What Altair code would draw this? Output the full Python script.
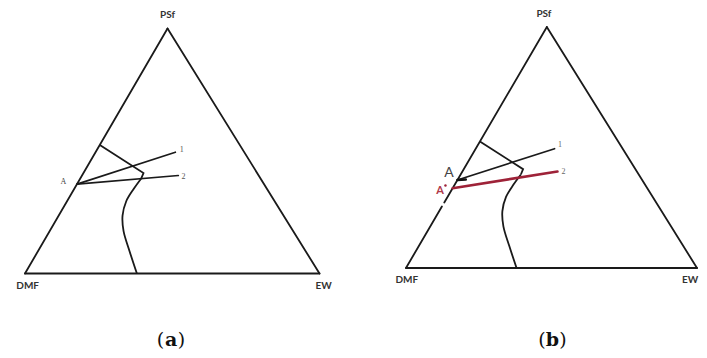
import altair as alt
import pandas as pd

# ---------------- data (ternary mass fractions: PSf, EW; DMF = 1 - PSf - EW) ----
SKEW = 0.484  # apex position along the base

# binodal curve, upper straight part (from DMF–PSf edge to the plait corner)
bin_top_psf = [0.525, 0.410, 0.388]
bin_top_ew = [0.000, 0.204, 0.207]
# binodal curve, lower curved part (down to the DMF–EW base)
bin_low_psf = [0.388, 0.346, 0.295, 0.236, 0.173, 0.091, 0.000]
bin_low_ew = [0.207, 0.202, 0.201, 0.217, 0.251, 0.311, 0.380]

# composition points
A_psf, A_ew = 0.365, 0.000
A2_psf, A2_ew = 0.331, 0.000        # A' (panel b)
P1_psf, P1_ew = 0.495, 0.271        # end of path 1
P2_psf, P2_ew = 0.400, 0.327        # end of path 2
ARW_psf, ARW_ew = 0.367, 0.028      # short arrow near A (panel b)
GAP_hi, GAP_lo = 0.272, 0.255       # break in left edge (panel b)

vertex_names = ["PSf", "DMF", "EW"]
panel_letters = ["a", "b"]
path_names = ["1", "2"]

# ---------------- helpers ----------------
CALC = dict(X=f"datum.ew + {SKEW}*datum.psf", Y="datum.psf")
CALC_R = dict(X1=f"datum.ew1 + {SKEW}*datum.psf1", Y1="datum.psf1",
              X2=f"datum.ew2 + {SKEW}*datum.psf2", Y2="datum.psf2")


def seg_df(rows):
    return pd.DataFrame(rows, columns=["psf1", "ew1", "psf2", "ew2"])


def panel(xdom, ydom, edges, black_segs, red_segs, labels, dots, letter, lpos):
    xs = alt.Scale(domain=xdom, nice=False, zero=False)
    ys = alt.Scale(domain=ydom, nice=False, zero=False)

    def enc(c, xf="X:Q", yf="Y:Q", **kw):
        return c.encode(x=alt.X(xf, scale=xs, axis=None), y=alt.Y(yf, scale=ys, axis=None), **kw)

    def rules(df, color, width):
        return enc(alt.Chart(df).mark_rule(color=color, strokeWidth=width, strokeCap="round").transform_calculate(
            **CALC_R), "X1:Q", "Y1:Q", x2="X2:Q", y2="Y2:Q")

    layers = [rules(seg_df(edges), "#1a1a1a", 1.8)]

    top = pd.DataFrame({"psf": bin_top_psf, "ew": bin_top_ew, "i": range(len(bin_top_psf))})
    low = pd.DataFrame({"psf": bin_low_psf, "ew": bin_low_ew, "i": range(len(bin_low_psf))})
    layers.append(enc(alt.Chart(top).mark_line(color="#1a1a1a", strokeWidth=1.8).transform_calculate(**CALC),
                      order="i:Q"))
    layers.append(enc(alt.Chart(low).mark_line(color="#1a1a1a", strokeWidth=1.8, interpolate="catmull-rom")
                      .transform_calculate(**CALC), order="i:Q"))

    for segs, color, w in black_segs + red_segs:
        layers.append(rules(seg_df(segs), color, w))

    for txt, x, y, size, font, weight, color in labels:
        d = pd.DataFrame({"X": [x], "Y": [y], "t": [txt]})
        layers.append(enc(alt.Chart(d).mark_text(fontSize=size, font=font, fontWeight=weight, color=color,
                                                 align="center", baseline="middle"), text="t:N"))
    for x, y, color in dots:
        d = pd.DataFrame({"X": [x], "Y": [y]})
        layers.append(enc(alt.Chart(d).mark_point(filled=True, size=6, color=color, opacity=1)))

    # panel caption "(x)" with bold letter
    d = pd.DataFrame({"X": [lpos[0]], "Y": [lpos[1]], "t": [letter]})
    for t, dx, w in [("(", -10.5, "normal"), (None, 0, "bold"), (")", 10.5, "normal")]:
        m = alt.Chart(d).mark_text(fontSize=19, font="DejaVu Serif", fontWeight=w, color="#111",
                                   align="center", baseline="middle", dx=dx)
        layers.append(enc(m, text=alt.value(t)) if t else enc(m, text="t:N"))

    return alt.layer(*layers).properties(width=341, height=342)


SANS = "Lato"
SERIF = "Liberation Serif"

# ---------------- panel (a) ----------------
edges_a = [[0, 0, 0, 1], [0, 1, 1, 0], [1, 0, 0, 0]]
black_a = [([[A_psf, A_ew, P1_psf, P1_ew], [A_psf, A_ew, P2_psf, P2_ew]], "#1a1a1a", 1.7)]
labels_a = [
    (vertex_names[0], 0.484, 1.056, 10, SANS, "bold", "#333"),
    (vertex_names[1], 0.009, -0.051, 10, SANS, "bold", "#333"),
    (vertex_names[2], 1.014, -0.051, 10, SANS, "bold", "#333"),
    ("A", 0.130, 0.372, 8, SERIF, "normal", "#444"),
    (path_names[0], 0.532, 0.504, 8, SERIF, "normal", "#555"),
    (path_names[1], 0.538, 0.395, 8, SERIF, "normal", "#555"),
]
pa = panel([-0.0577, 1.1002], [-0.3122, 1.0837], edges_a, black_a, [], labels_a, [],
           panel_letters[0], (0.496, -0.2714))

# ---------------- panel (b) ----------------
edges_b = [[0, 0, 0, 1], [0, 1, 1, 0], [1, 0, GAP_hi, 0], [GAP_lo, 0, 0, 0]]
black_b = [([[A_psf, A_ew, P1_psf, P1_ew]], "#1a1a1a", 1.7),
           ([[A_psf, A_ew, ARW_psf, ARW_ew]], "#111", 2.4)]
red_b = [([[A2_psf, A2_ew, P2_psf, P2_ew]], "#9e2238", 2.6)]
labels_b = [
    (vertex_names[0], 0.474, 1.052, 10, SANS, "bold", "#333"),
    (vertex_names[1], 0.003, -0.050, 10, SANS, "bold", "#333"),
    (vertex_names[2], 0.976, -0.050, 10, SANS, "bold", "#333"),
    ("A", 0.148, 0.393, 14, SANS, "normal", "#444"),
    ("A", 0.117, 0.321, 11, SANS, "bold", "#b03a4a"),
    (path_names[0], 0.529, 0.510, 8, SERIF, "normal", "#666"),
    (path_names[1], 0.541, 0.400, 8, SERIF, "normal", "#666"),
]
dots_b = [(0.1357, 0.342, "#9e2238")]
pb = panel([-0.1649, 1.0069], [-0.3403, 1.0788], edges_b, black_b, red_b, labels_b, dots_b,
           panel_letters[1], (0.503, -0.2988))

chart = alt.hconcat(pa, pb, spacing=9, bounds="flush").properties(padding=0).configure_view(stroke=None)

chart.save("out.html", embed_options={"renderer": "svg", "actions": False})
